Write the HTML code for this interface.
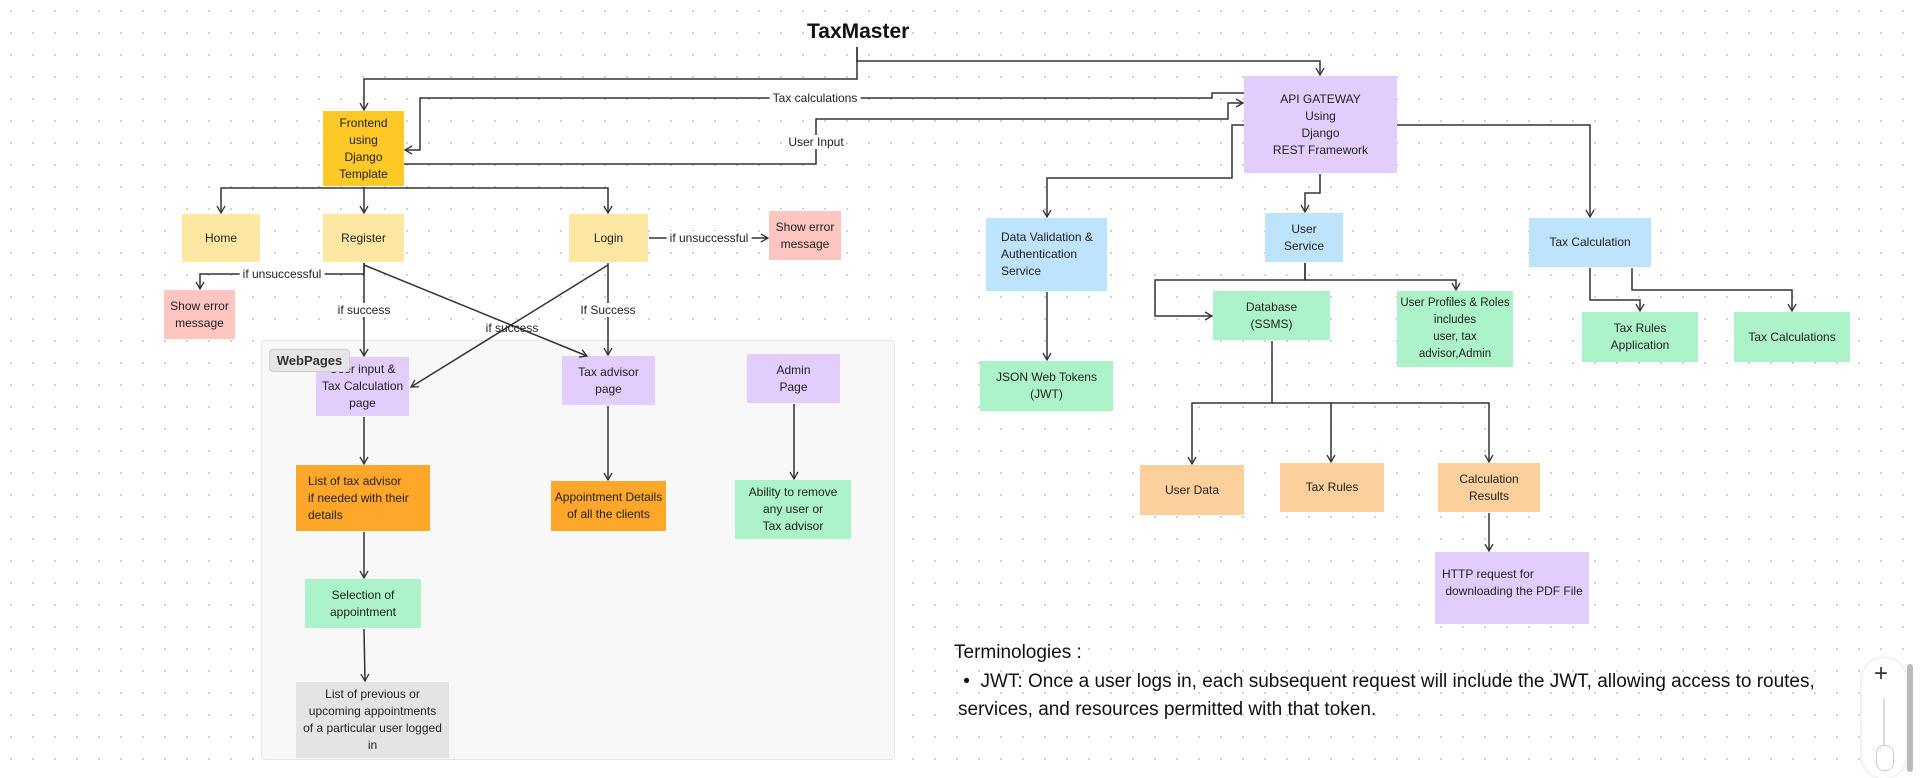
<!DOCTYPE html>
<html><head><meta charset="utf-8"><style>
body{margin:0;width:1920px;height:772px;overflow:hidden;background:#fff;background-image:radial-gradient(circle,#d0d0d0 1px,transparent 1.3px);background-size:22px 22px;font-family:"Liberation Sans",sans-serif;position:relative}
.b{position:absolute;display:flex;align-items:center;justify-content:center;text-align:center;font-size:12px;line-height:17px;color:#222;box-sizing:border-box;padding:0 2px;white-space:nowrap}
.y{background:#fde7a3}.o{background:#ffca28}.p{background:#fec5c1}.l{background:#e3cdfc}.g{background:#adf3c9}.bl{background:#bee3fd}.or{background:#ffa72a}.pe{background:#fbd09c}.gr{background:#e4e4e4}
.lab{position:absolute;font-size:12px;background:#fff;padding:0 3px;color:#222;transform:translate(-50%,-50%);white-space:nowrap}
svg{position:absolute;left:0;top:0}
</style></head><body>
<div style="position:absolute;left:261px;top:340px;width:632px;height:418px;background:#f8f8f8;border:1px solid #e6e6e6;border-radius:4px"></div>
<div style="position:absolute;left:807px;top:20px;font-size:21px;font-weight:bold;color:#111">TaxMaster</div>

<div class="b o" style="left:323px;top:111px;width:81px;height:75px">Frontend<br>using<br>Django<br>Template</div>
<div class="b y" style="left:182px;top:214px;width:78px;height:48px">Home</div>
<div class="b y" style="left:323px;top:214px;width:81px;height:48px">Register</div>
<div class="b y" style="left:569px;top:214px;width:79px;height:48px">Login</div>
<div class="b p" style="left:769px;top:211px;width:72px;height:49px">Show error<br>message</div>
<div class="b p" style="left:164px;top:290px;width:71px;height:49px">Show error<br>message</div>
<div class="b l" style="left:316px;top:357px;width:93px;height:59px">User input &amp;<br>Tax Calculation<br>page</div>
<div style="position:absolute;left:269px;top:349px;width:79px;height:21px;background:#e5e5e5;border:1px solid #cfcfcf;border-radius:4px;font-size:13px;font-weight:bold;color:#333;display:flex;align-items:center;justify-content:center">WebPages</div>
<div class="b l" style="left:562px;top:356px;width:93px;height:49px">Tax advisor<br>page</div>
<div class="b l" style="left:747px;top:354px;width:93px;height:49px">Admin<br>Page</div>
<div class="b or" style="left:296px;top:465px;width:134px;height:66px;justify-content:flex-start;text-align:left;padding-left:12px">List of tax advisor<br>if needed with their<br>details</div>
<div class="b or" style="left:551px;top:481px;width:115px;height:50px">Appointment Details<br>of all the clients</div>
<div class="b g" style="left:735px;top:480px;width:116px;height:59px">Ability to remove<br>any user or<br>Tax advisor</div>
<div class="b g" style="left:305px;top:579px;width:116px;height:49px">Selection of<br>appointment</div>
<div class="b gr" style="left:296px;top:682px;width:153px;height:76px">List of previous or<br>upcoming appointments<br>of a particular user logged<br>in</div>

<div class="b l" style="left:1244px;top:76px;width:153px;height:97px">API GATEWAY<br>Using<br>Django<br>REST Framework</div>
<div class="b bl" style="left:986px;top:218px;width:121px;height:73px;justify-content:flex-start;text-align:left;padding-left:15px">Data Validation &amp;<br>Authentication<br>Service</div>
<div class="b bl" style="left:1265px;top:213px;width:78px;height:49px">User<br>Service</div>
<div class="b bl" style="left:1529px;top:218px;width:122px;height:49px">Tax Calculation</div>
<div class="b g" style="left:980px;top:361px;width:133px;height:50px">JSON Web Tokens<br>(JWT)</div>
<div class="b g" style="left:1213px;top:291px;width:117px;height:49px">Database<br>(SSMS)</div>
<div class="b g" style="left:1397px;top:291px;width:116px;height:76px;font-size:11.5px">User Profiles &amp; Roles<br>includes<br>user, tax<br>advisor,Admin</div>
<div class="b g" style="left:1582px;top:312px;width:116px;height:50px">Tax Rules<br>Application</div>
<div class="b g" style="left:1734px;top:312px;width:116px;height:50px">Tax Calculations</div>
<div class="b pe" style="left:1140px;top:465px;width:104px;height:50px">User Data</div>
<div class="b pe" style="left:1280px;top:463px;width:104px;height:49px">Tax Rules</div>
<div class="b pe" style="left:1438px;top:463px;width:102px;height:49px">Calculation<br>Results</div>
<div class="b l" style="left:1435px;top:552px;width:154px;height:72px;justify-content:flex-start;text-align:left;padding-left:7px;padding-bottom:10px">HTTP request for<br>&nbsp;downloading the PDF File</div>

<svg width="1920" height="772" fill="none" stroke="#333" stroke-width="1.5">
<defs><marker id="a" markerWidth="10" markerHeight="10" refX="8" refY="5" orient="auto" markerUnits="userSpaceOnUse"><path d="M1,1 L8,5 L1,9" stroke="#333" stroke-width="1.3" fill="none"/></marker></defs>
<g marker-end="url(#a)">
<path d="M857,47 V61 H1320 V75"/>
<path d="M857,47 V79 H364 V110"/>
<path d="M1244,93 H1212 V98 H420 V150 H405"/>
<path d="M404,164 H816 V119 H1228 V103 H1243"/>
<path d="M1244,125 H1232 V178 H1047 V217"/>
<path d="M1320,174 V193 H1305 V212"/>
<path d="M1397,125 H1590 V217"/>
<path d="M364,187 V188 H221 V213"/>
<path d="M364,187 V213"/>
<path d="M364,188 H608 V213"/>
<path d="M649,238 H768"/>
<path d="M364,263 V274 H200 V289"/>
<path d="M364,263 V356"/>
<path d="M364,265 L587,356"/>
<path d="M608,263 V355"/>
<path d="M608,265 L411,387"/>
<path d="M364,417 V464"/>
<path d="M608,406 V480"/>
<path d="M794,404 V479"/>
<path d="M364,532 V578"/>
<path d="M364,629 L365,681"/>
<path d="M1047,292 V360"/>
<path d="M1305,263 V280 H1456 V290"/>
<path d="M1305,263 V280 H1155 V316 H1212"/>
<path d="M1272,341 V403 H1192 V464"/>
<path d="M1272,403 H1331 V462"/>
<path d="M1331,403 H1489 V462"/>
<path d="M1489,513 V551"/>
<path d="M1590,268 V300 H1640 V311"/>
<path d="M1632,268 V290 H1792 V311"/>
</g></svg>
<div class="lab" style="left:815px;top:98px">Tax calculations</div>
<div class="lab" style="left:816px;top:142px">User Input</div>
<div class="lab" style="left:709px;top:238px">if unsuccessful</div>
<div class="lab" style="left:282px;top:274px">if unsuccessful</div>
<div class="lab" style="left:364px;top:310px">if success</div>
<div class="lab" style="left:608px;top:310px">If Success</div>
<div class="lab" style="left:512px;top:328px;background:transparent">if success</div>

<div style="position:absolute;left:954px;top:642px;font-size:19px;color:#111">Terminologies :</div>
<div style="position:absolute;left:958px;top:668px;font-size:19px;color:#111;line-height:28px;width:870px">&nbsp;•&nbsp; JWT: Once a user logs in, each subsequent request will include the JWT, allowing access to routes,<br>services, and resources permitted with that token.</div>

<div style="position:absolute;left:1862px;top:658px;width:44px;height:120px;background:#fff;border-radius:22px;box-shadow:0 0 4px rgba(0,0,0,.15)"></div>
<div style="position:absolute;left:1874px;top:660px;font-size:24px;color:#333">+</div>
<div style="position:absolute;left:1883px;top:698px;width:2px;height:60px;background:#ddd"></div>
<div style="position:absolute;left:1876px;top:745px;width:16px;height:24px;border:1px solid #ccc;border-radius:8px;background:#fff"></div>
<div style="position:absolute;left:1907px;top:664px;width:6px;height:108px;background:#bbb;border-radius:3px"></div>
</body></html>
